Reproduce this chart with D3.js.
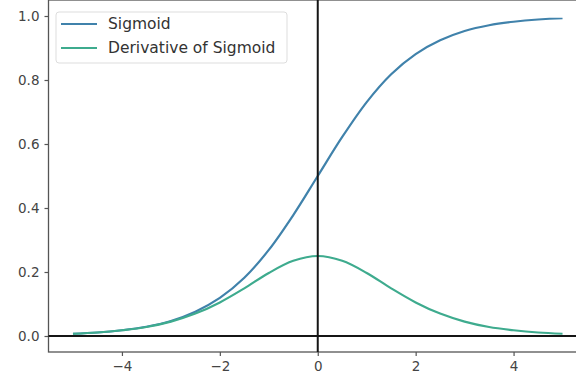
<!DOCTYPE html>
<html><head><meta charset="utf-8">
<script src="https://cdn.jsdelivr.net/npm/d3@7"></script>
<style>body{margin:0;background:#fff}svg{display:block}text{font-family:"DejaVu Sans",sans-serif}</style>
</head><body><svg id="c" width="576" height="383"></svg>
<script>
const xs = [-5,-4.5,-4,-3.5,-3,-2.5,-2,-1.5,-1,-0.5,0,0.5,1,1.5,2,2.5,3,3.5,4,4.5,5];
const sigmoidVals = [0.007,0.011,0.018,0.029,0.047,0.076,0.119,0.182,0.269,0.378,0.5,0.622,0.731,0.818,0.881,0.924,0.953,0.971,0.982,0.989,0.993];
const derivVals = [0.007,0.011,0.018,0.028,0.045,0.070,0.105,0.149,0.197,0.235,0.25,0.235,0.197,0.149,0.105,0.070,0.045,0.028,0.018,0.011,0.007];
const seriesNames = ["Sigmoid","Derivative of Sigmoid"];
const seriesColors = ["#4082ab","#3eab8e"];
const xTicks = [-4,-2,0,2,4];
const yTicks = [0.0,0.2,0.4,0.6,0.8,1.0];

const svg = d3.select("#c");
const x = d3.scaleLinear().domain([-5.5,5.5]).range([48.5,587]);
const y = d3.scaleLinear().domain([-0.05,1.05]).range([352,0]);

const xAxis = d3.axisBottom(x).tickValues(xTicks).tickSize(4).tickPadding(5).tickFormat(d=>d3.format("d")(d).replace("-","\u2212"));
const yAxis = d3.axisLeft(y).tickValues(yTicks).tickSize(4).tickPadding(5).tickFormat(d3.format(".1f"));

const gx = svg.append("g").attr("transform",`translate(0,${y(-0.05)})`).call(xAxis);
const gy = svg.append("g").attr("transform",`translate(${x(-5.5)},0)`).call(yAxis);
[gx,gy].forEach(g=>{
  g.select(".domain").remove();
  g.selectAll("line").attr("stroke","#555").attr("stroke-width",1.2);
  g.selectAll("text").attr("fill","#444").style("font-size","13.5px");
});

// spines
svg.append("rect").attr("x",x(-5.5)).attr("y",y(1.05)).attr("width",x(5.5)-x(-5.5)).attr("height",y(-0.05)-y(1.05))
  .attr("fill","none").attr("stroke","#555").attr("stroke-width",1.3);

const line = d3.line().x((d,i)=>x(xs[i])).y(d=>y(d)).curve(d3.curveCatmullRom);
svg.append("path").datum(sigmoidVals).attr("d",line).attr("fill","none").attr("stroke",seriesColors[0]).attr("stroke-width",2.2);
svg.append("path").datum(derivVals).attr("d",line).attr("fill","none").attr("stroke",seriesColors[1]).attr("stroke-width",2.2);

// axhline / axvline
svg.append("line").attr("x1",x(-5.5)).attr("x2",x(5.5)).attr("y1",y(0)).attr("y2",y(0)).attr("stroke","#151515").attr("stroke-width",2);
svg.append("line").attr("x1",x(0)).attr("x2",x(0)).attr("y1",y(1.05)).attr("y2",y(-0.05)).attr("stroke","#151515").attr("stroke-width",2);

// legend
const lg = svg.append("g");
lg.append("rect").attr("x",56).attr("y",12).attr("width",231).attr("height",51).attr("rx",3)
  .attr("fill","#fff").attr("fill-opacity",0.85).attr("stroke","#ddd").attr("stroke-width",1);
seriesNames.forEach((n,i)=>{
  const yy = 24 + i*24;
  lg.append("line").attr("x1",61).attr("x2",97).attr("y1",yy).attr("y2",yy).attr("stroke",seriesColors[i]).attr("stroke-width",2.2);
  lg.append("text").attr("x",108).attr("y",yy).attr("dy","0.35em").attr("fill","#333").style("font-size","15.5px").text(n);
});
</script></body></html>
